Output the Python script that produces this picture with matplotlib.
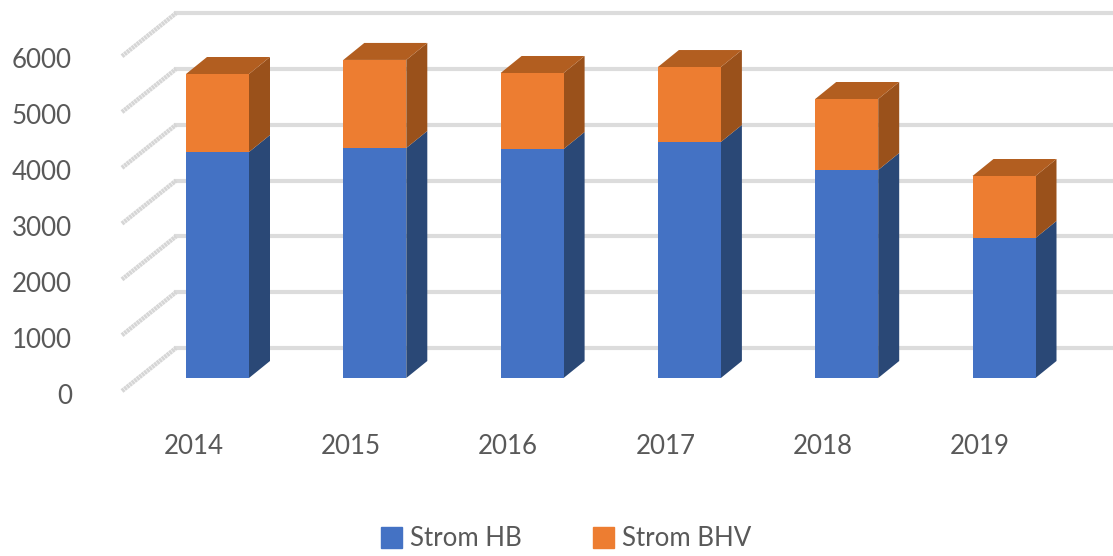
import matplotlib
matplotlib.use("Agg")
import matplotlib.pyplot as plt
from matplotlib.patches import Polygon, Patch

years = ["2014", "2015", "2016", "2017", "2018", "2019"]
strom_hb = [4050, 4122, 4104, 4230, 3728, 2509]
strom_bhv = [1398, 1578, 1362, 1343, 1272, 1111]
y_ticks = [0, 1000, 2000, 3000, 4000, 5000, 6000]

# pixel scale of the chart, one category and 1000 units
cat_px = 157.3
unit_px = 55.8 / 1000
x0_px = 217.5
y0_px = 378

blue, blue_side = "#4472C4", "#2A4876"
orange, orange_side, orange_top = "#ED7D31", "#9A511B", "#B25E20"
grid_col = "#DCDCDC"
text_col = "#595959"

plt.rcParams["font.family"] = ["Lato", "DejaVu Sans"]

fig = plt.figure(figsize=(11.13, 5.56), dpi=100)
ax = fig.add_axes([0, 0, 1, 1])
ax.set_xlim(-x0_px / cat_px, (1113 - x0_px) / cat_px)
ax.set_ylim((y0_px - 556) / unit_px, y0_px / unit_px)
ax.axis("off")

bar_w = 63 / cat_px
dx = 21 / cat_px
dy = 17 / unit_px

# back wall and side wall gridlines
back_y = 30 / unit_px
wall_x = (176 - x0_px) / cat_px
front_x = (122 - x0_px) / cat_px
front_y = -13 / unit_px
for v in y_ticks:
    ax.plot([wall_x, ax.get_xlim()[1]], [v + back_y, v + back_y], color=grid_col, lw=3, zorder=1)
    ax.plot([front_x, wall_x], [v + front_y, v + back_y], color="#D6D6D6", lw=3.2,
            ls=(0, (0.6, 0.12)), zorder=1)


def box(x, bottom, height, front, side, top=None):
    left, right = x - bar_w / 2, x + bar_w / 2
    ax.add_patch(Polygon([(right, bottom), (right + dx, bottom + dy),
                          (right + dx, bottom + height + dy), (right, bottom + height)],
                         facecolor=side, lw=0, zorder=3))
    if top:
        ax.add_patch(Polygon([(left, bottom + height), (right, bottom + height),
                              (right + dx, bottom + height + dy), (left + dx, bottom + height + dy)],
                             facecolor=top, lw=0, zorder=3))
    ax.bar(x, height, bar_w, bottom=bottom, color=front, lw=0, zorder=4)


for i in range(len(years)):
    box(i, 0, strom_hb[i], blue, blue_side)
    box(i, strom_hb[i], strom_bhv[i], orange, orange_side, orange_top)

# labels sit on the front plane
for v in y_ticks:
    ax.text((72 - x0_px) / cat_px, v * 56 / 55.8 - 19 / unit_px, str(v), ha="right", va="center",
            fontsize=18.6, color=text_col)
for i, y in enumerate(years):
    ax.text(i - 24 / cat_px, -69 / unit_px, y, ha="center", va="center", fontsize=18.6, color=text_col)

handles = [Patch(color=blue, label="Strom HB"), Patch(color=orange, label="Strom BHV")]
ax.legend(handles=handles, ncol=2, loc="center", bbox_to_anchor=(566 / 1113, 1 - 539 / 556),
          frameon=False, fontsize=18.6, labelcolor=text_col, handlelength=0.82, handleheight=0.85,
          handletextpad=0.3, columnspacing=2.75, borderpad=0, borderaxespad=0)

fig.savefig("out.png", dpi=100)
